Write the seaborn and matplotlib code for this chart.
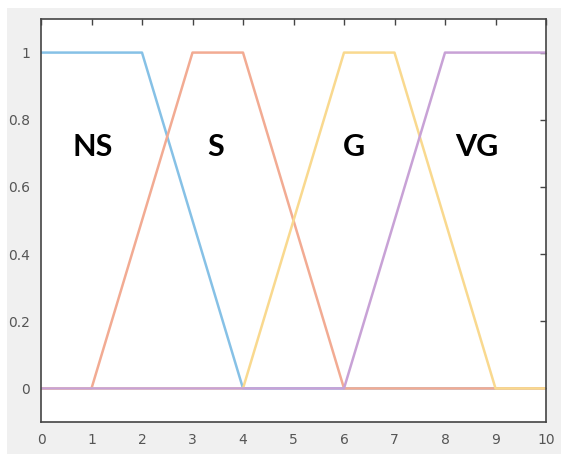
import pandas as pd
import matplotlib.pyplot as plt
import seaborn as sns
from matplotlib.patches import Rectangle

# breakpoints of the membership functions
x = [0, 1, 2, 3, 4, 6, 7, 8, 9, 10]
ns = [1, 1, 1, 0.5, 0, 0, 0, 0, 0, 0]
s = [0, 0, 0.5, 1, 1, 0, 0, 0, 0, 0]
g = [0, 0, 0, 0, 0, 1, 1, 0.5, 0, 0]
vg = [0, 0, 0, 0, 0, 0, 0.5, 1, 1, 1]
names = ["NS", "S", "G", "VG"]
label_x = [1.03, 3.45, 6.2, 8.63]
label_y = [0.72, 0.72, 0.72, 0.72]

colors = ["#86c1e6", "#f2ab93", "#f9d98f", "#c8a2d6"]

data = pd.DataFrame({"x": x * 4, "mu": ns + s + g + vg,
                     "set": [n for n in names for _ in x]})

sns.set_style("white")
fig = plt.figure(figsize=(5.61, 4.54), dpi=100, facecolor="white")
fig.patches.append(Rectangle((7 / 561, 0), 1, 1 - 8 / 454, transform=fig.transFigure,
                             facecolor="#f0f0f0", edgecolor="none", zorder=-10))
ax = fig.add_axes([41 / 561, 32 / 454, 505 / 561, 403 / 454])
ax.set_facecolor("white")

sns.lineplot(data=data, x="x", y="mu", hue="set", hue_order=names,
             palette=colors, linewidth=1.8, legend=False, ax=ax)

for n, lx, ly in zip(names, label_x, label_y):
    ax.text(lx, ly, n, fontsize=22, fontweight="bold", family="Lato",
            ha="center", va="center", color="black")

ax.set_xlim(0, 10)
ax.set_ylim(-0.1, 1.1)
ax.set_xticks(range(0, 11))
ax.set_yticks([0, 0.2, 0.4, 0.6, 0.8, 1])
ax.set_yticklabels(["0", "0.2", "0.4", "0.6", "0.8", "1"])
ax.set_xlabel("")
ax.set_ylabel("")
for sp in ax.spines.values():
    sp.set_visible(True)
    sp.set_color("#444444")
    sp.set_linewidth(1.2)
ax.tick_params(direction="in", length=4, width=1, color="#444444",
               top=True, right=True, labelsize=10, labelcolor="#555555", pad=8)

fig.savefig("out.png", dpi=100, facecolor=fig.get_facecolor())
